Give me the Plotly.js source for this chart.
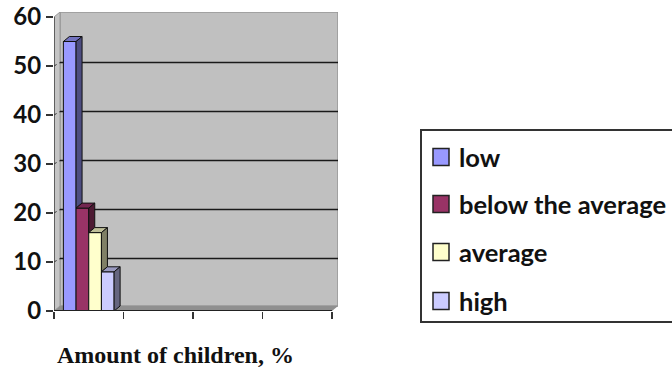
<!DOCTYPE html>
<html>
<head>
<meta charset="utf-8">
<script src="https://cdn.plot.ly/plotly-3.0.1.min.js"></script>
<style>html,body{margin:0;padding:0;background:#fff;overflow:hidden}</style>
</head>
<body>
<div id="chart" style="width:672px;height:367px"></div>
<script>
// Share of children per level, one cluster filled out of four category slots
const categoryPositions = [0.5, 1.5, 2.5, 3.5];
const low = [55, null, null, null];
const belowAverage = [21, null, null, null];
const average = [16, null, null, null];
const high = [8, null, null, null];
const seriesNames = ['low', 'below the average', 'average', 'high'];
const yTicks = [0, 10, 20, 30, 40, 50, 60];
const xTicks = [0, 1, 2, 3, 4];

const frontColors = ['#9999ff', '#993366', '#ffffcc', '#ccccff'];
const topColors = ['#7373bf', '#732650', '#bfbf99', '#9999bf'];
const sideColors = ['#4d4d80', '#4d1a33', '#808066', '#666680'];

const seriesValues = [low, belowAverage, average, high];
const bargap = 0.27;
const barWidth = (1 - bargap) / seriesValues.length;
const depthX = 6 / 69.5;   // oblique offset of the 3-D look, in axis units
const depthY = 5 / 4.9;
const gridLift = 0.7;

const traces = seriesValues.map((vals, i) => ({
  type: 'bar', name: seriesNames[i], x: categoryPositions, y: vals,
  marker: {color: frontColors[i], line: {color: '#111', width: 1}},
  showlegend: false, hoverinfo: 'y'
}));

// Top and side faces of every bar, derived from the same values
seriesValues.forEach((vals, i) => {
  vals.forEach((v, c) => {
    if (v === null) return;
    const x0 = categoryPositions[c] - 0.5 + bargap / 2 + i * barWidth;
    const x1 = x0 + barWidth;
    const next = i + 1 < seriesValues.length ? seriesValues[i + 1][c] : 0;
    const face = (xs, ys, color) => traces.push({
      type: 'scatter', mode: 'lines', x: xs, y: ys, fill: 'toself', fillcolor: color,
      line: {color: '#111', width: 1}, showlegend: false, hoverinfo: 'skip'
    });
    face([x0, x0 + depthX, x1 + depthX, x1, x0], [v, v + depthY, v + depthY, v, v], topColors[i]);
    face([x1, x1 + depthX, x1 + depthX, x1, x1], [v, v + depthY, next + depthY, next, v], sideColors[i]);
  });
});

const wallRight = 284 / 69.5;
const wallTop = 299 / 4.9;
const shapes = [
  // back wall, side wall and floor
  {type: 'rect', layer: 'below', x0: depthX, x1: wallRight, y0: depthY, y1: wallTop,
   fillcolor: '#c0c0c0', line: {color: '#969696', width: 1.5}},
  {type: 'path', layer: 'below', path: `M0,0 L${depthX},${depthY} L${depthX},${wallTop} L0,60 Z`,
   fillcolor: '#c4c4c4', line: {color: '#9a9a9a', width: 1}},
  {type: 'path', layer: 'below', path: `M0,0 L${depthX},${depthY} L${wallRight},${depthY} L4,0 Z`,
   fillcolor: '#8f8f8f', line: {width: 0}},
  // axis lines
  {type: 'line', layer: 'above', x0: 0, x1: 0, y0: 0, y1: 60, line: {color: '#444', width: 1.5}},
  {type: 'line', layer: 'above', x0: 0, x1: 4, y0: 0, y1: 0, line: {color: '#222', width: 2}}
];
yTicks.filter(t => t > 0 && t < 60).forEach(t => {
  shapes.push({type: 'line', layer: 'below', x0: depthX, x1: wallRight, y0: t + gridLift, y1: t + gridLift,
    line: {color: '#1a1a1a', width: 1.5}});
  shapes.push({type: 'line', layer: 'below', x0: 0, x1: depthX, y0: t, y1: t + gridLift,
    line: {color: '#333', width: 1, dash: 'dot'}});
});

// Paper-coordinate helpers for the key panel and caption, from page pixels
const paperX = px => (px - 54) / 284;
const paperY = py => (311 - py) / 299;
const legendRows = [157, 204, 252, 301];

const annotations = [{
  text: '<b>Amount of children, %</b>', xref: 'paper', yref: 'paper',
  x: paperX(55), y: paperY(355), xanchor: 'left', yanchor: 'middle', showarrow: false,
  font: {family: 'Liberation Serif, serif', size: 24, color: '#111'}
}];

// Key panel runs past the right edge of the page
shapes.push({type: 'rect', xref: 'paper', yref: 'paper', x0: paperX(421), x1: paperX(690),
  y0: paperY(322), y1: paperY(130), fillcolor: '#fff', line: {color: '#333', width: 2}});
seriesNames.forEach((name, i) => {
  const cy = legendRows[i];
  shapes.push({type: 'rect', xref: 'paper', yref: 'paper', x0: paperX(433), x1: paperX(449),
    y0: paperY(cy + 8.5), y1: paperY(cy - 8.5), fillcolor: frontColors[i], line: {color: '#222', width: 1.5}});
  annotations.push({text: '<b>' + name + '</b>', xref: 'paper', yref: 'paper',
    x: paperX(457), y: paperY(cy), xanchor: 'left', yanchor: 'middle', showarrow: false,
    font: {family: 'Lato, sans-serif', size: 25.5, color: '#111'}});
});

const layout = {
  width: 672, height: 367,
  margin: {l: 54, r: 334, t: 12, b: 56},
  paper_bgcolor: '#fff', plot_bgcolor: '#fff',
  barmode: 'group', bargap: bargap, bargroupgap: 0, showlegend: false,
  font: {family: 'Lato, sans-serif', color: '#111'},
  xaxis: {range: [0, wallRight], tickmode: 'array', tickvals: xTicks, showticklabels: false,
    ticks: 'outside', ticklen: 7, tickwidth: 1.5, tickcolor: '#333',
    showgrid: false, zeroline: false, showline: false, fixedrange: true,
    title: {text: ''}},
  yaxis: {range: [0, wallTop], tickmode: 'array', tickvals: yTicks, ticks: 'outside', ticklen: 7,
    tickwidth: 1.5, tickcolor: '#333', showgrid: false, zeroline: false, showline: false,
    tickfont: {family: 'Lato, sans-serif', size: 24, weight: 700, color: '#111'}, fixedrange: true},
  shapes: shapes,
  annotations: annotations
};

Plotly.newPlot('chart', traces, layout, {displayModeBar: false, staticPlot: true});
</script>
</body>
</html>
